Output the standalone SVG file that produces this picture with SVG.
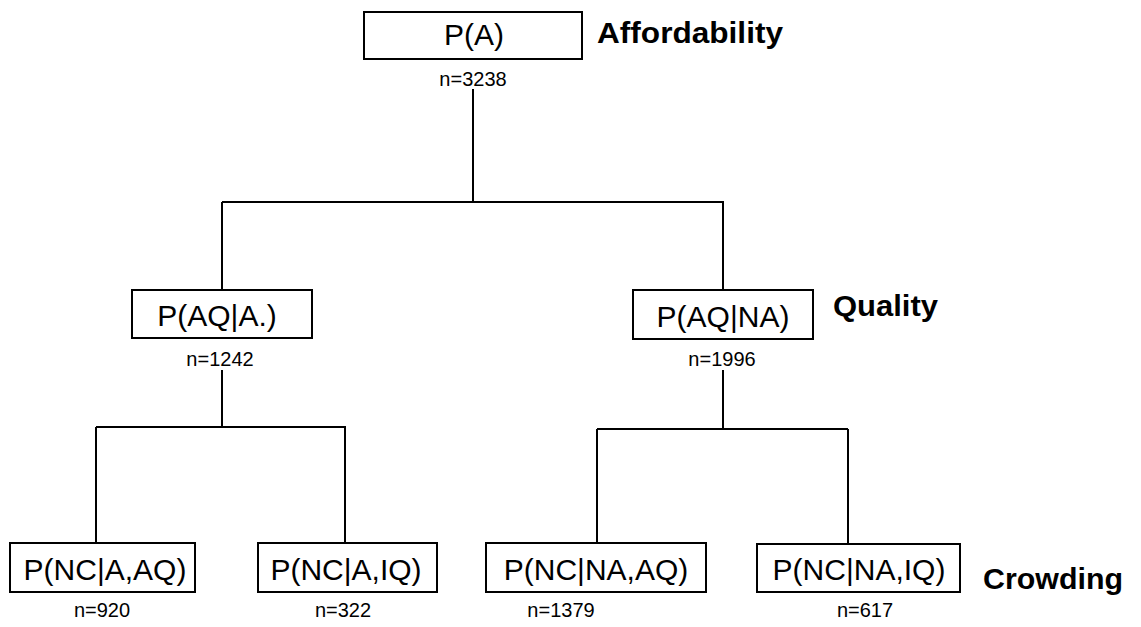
<svg xmlns="http://www.w3.org/2000/svg" width="1141" height="627" viewBox="0 0 1141 627">
<style>
.box{fill:#fff;stroke:#000;stroke-width:2}
.bt{font-family:"Liberation Sans",Arial,sans-serif;font-size:30px;text-anchor:middle;fill:#000}
.n{font-family:"Liberation Sans",Arial,sans-serif;font-size:20px;text-anchor:middle;fill:#000}
.lab{font-family:"Liberation Sans",Arial,sans-serif;font-size:29px;font-weight:bold;fill:#000}
.ln{fill:none;stroke:#000;stroke-width:2}
</style>
<rect width="1141" height="627" fill="#fff"/>
<g id="connectors">
<path class="ln" d="M473 89V202M222 202H724M222 202V290M723 202V290"/>
<path class="ln" d="M222 370V427M96 427H346M96 427V543M345 427V543"/>
<path class="ln" d="M723 370V429M597 429H848M597 429V543M848 429V543"/>
</g>
<g id="node-A">
<rect class="box" x="364" y="12" width="218" height="47"/>
<text class="bt" x="474" y="45">P(A)</text>
<text class="n" x="473" y="86">n=3238</text>
</g>
<g id="node-AQ-A">
<rect class="box" x="132" y="290" width="180" height="48"/>
<text class="bt" x="217" y="326">P(AQ|A.)</text>
<text class="n" x="220" y="366">n=1242</text>
</g>
<g id="node-AQ-NA">
<rect class="box" x="633" y="290" width="180" height="49"/>
<text class="bt" x="723" y="327">P(AQ|NA)</text>
<text class="n" x="722" y="366">n=1996</text>
</g>
<g id="node-NC-A-AQ">
<rect class="box" x="10" y="543" width="185" height="49"/>
<text class="bt" x="105" y="580">P(NC|A,AQ)</text>
<text class="n" x="102" y="617">n=920</text>
</g>
<g id="node-NC-A-IQ">
<rect class="box" x="258" y="543" width="179" height="49"/>
<text class="bt" x="346" y="580">P(NC|A,IQ)</text>
<text class="n" x="343" y="617">n=322</text>
</g>
<g id="node-NC-NA-AQ">
<rect class="box" x="486" y="543" width="220" height="49"/>
<text class="bt" x="596" y="580">P(NC|NA,AQ)</text>
<text class="n" x="561" y="617">n=1379</text>
</g>
<g id="node-NC-NA-IQ">
<rect class="box" x="757" y="544" width="203" height="48"/>
<text class="bt" x="859" y="580">P(NC|NA,IQ)</text>
<text class="n" x="865" y="617">n=617</text>
</g>
<g id="labels">
<text class="lab" x="597" y="43" textLength="186" lengthAdjust="spacingAndGlyphs">Affordability</text>
<text class="lab" x="833" y="316" textLength="105" lengthAdjust="spacingAndGlyphs">Quality</text>
<text class="lab" x="983" y="589" textLength="140" lengthAdjust="spacingAndGlyphs">Crowding</text>
</g>
</svg>
